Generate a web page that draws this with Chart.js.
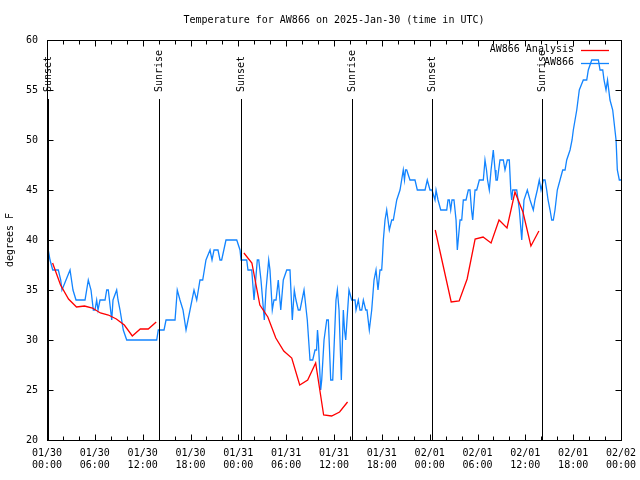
<!DOCTYPE html>
<html>
<head>
<meta charset="utf-8">
<title>Temperature for AW866</title>
<script src="https://cdn.jsdelivr.net/npm/chart.js@4"></script>
<style>
  html, body { margin: 0; padding: 0; background: #fff; }
  canvas { display: block; }
</style>
</head>
<body>
<canvas id="chart" width="640" height="480"></canvas>
<script>
// observed temperature, hours since 01/30 00:00 UTC
const obsHours = [
  0.16,0.38,0.72,1.42,1.72,1.88,2.89,3.26,3.64,4.77,
  5.18,5.52,5.81,6.02,6.23,6.40,6.65,7.28,7.49,7.69,
  8.12,8.28,8.74,8.91,9.16,9.57,10.00,13.76,13.96,14.68,
  14.93,16.06,16.34,16.68,17.06,17.44,17.94,18.19,18.44,18.78,
  19.19,19.53,19.94,20.45,20.70,20.95,21.45,21.70,21.91,22.45,
  23.80,24.21,24.34,24.55,25.05,25.21,25.68,25.97,26.38,26.56,
  26.84,27.26,27.47,27.81,27.97,28.26,28.47,28.73,29.01,29.32,
  29.64,30.07,30.48,30.77,31.02,31.23,31.52,31.74,31.99,32.24,
  32.65,32.99,33.33,33.62,33.81,33.93,34.03,34.33,34.46,34.75,
  35.09,35.29,35.59,35.84,36.25,36.42,36.63,36.92,37.17,37.32,
  37.47,37.63,37.88,38.22,38.64,38.76,39.05,39.26,39.48,39.68,
  39.98,40.14,40.43,40.73,41.02,41.27,41.52,41.77,41.98,42.06,
  42.19,42.40,42.61,42.94,43.24,43.44,43.87,44.28,44.69,44.84,
  44.97,45.12,45.53,46.16,46.45,47.42,47.70,48.04,48.29,48.67,
  48.80,49.05,49.39,50.14,50.30,50.46,50.64,50.80,51.05,51.31,
  51.47,51.81,52.02,52.22,52.56,52.85,53.06,53.25,53.40,53.69,
  53.90,54.23,54.73,54.94,55.13,55.26,55.48,55.70,55.98,56.20,
  56.32,56.49,56.82,57.24,57.45,57.74,57.99,58.17,58.29,58.42,
  58.92,59.25,59.55,59.83,60.25,60.59,61.00,61.21,61.50,61.75,
  61.97,62.26,62.47,62.68,62.85,63.10,63.31,63.51,63.72,64.01,
  64.35,64.69,64.98,65.19,65.61,65.86,66.02,66.45,66.77,67.27,
  67.70,67.90,68.33,69.16,69.37,69.71,69.87,70.12,70.31,70.62,
  70.96,71.38,71.54,71.79,72.00
];
const obsTemps = [
  39,38,37,37,36,35,37,35,34,34,
  36,35,33,33,34,33,34,34,35,35,
  32,34,35,34,33,31,30,30,31,31,
  32,32,35,34,33,31,33,34,35,34,
  36,36,38,39,38,39,39,38,38,40,
  40,39,38,38,38,37,37,34,38,38,
  36,32,35,38,37,33,34,34,36,33,
  36,37,37,32,35,34,33,33,34,35,
  32,28,28,29,29,31,30,25,26,30,
  32,32,26,26,34,35,33,26,33,31,
  30,32,35,34,34,33,34,33,33,34,
  33,33,31,33,36,37,35,37,37,38,
  40,42,43,41,42,42,44,45,47,46,
  47,47,46,46,45,45,46,45,45,44,
  45,44,43,43,44,44,43,44,44,42,
  39,42,42,44,44,45,45,43,42,45,
  45,46,46,48,47,46,45,47,49,47,
  46,46,48,48,47,48,48,45,44,45,
  45,43,40,44,45,44,43,44,45,46,
  45,46,46,45,44,43,42,42,43,45,
  46,47,47,48,49,50,51,53,55,56,
  56,57,58,58,57,57,56,55,56,54,
  53,50,47,46,46
];

// analysis runs, one block per day
const analysisHours1 = [0.7,1.7,2.7,3.7,4.7,5.7,6.7,7.7,8.7,9.7,10.7,11.7,12.7,13.7];
const analysisTemps1 = [37.7,35.5,34.1,33.3,33.4,33.2,32.7,32.5,32.1,31.5,30.4,31.1,31.1,31.8];
const analysisHours2 = [24.7,25.7,26.7,27.7,28.7,29.7,30.7,31.7,32.7,33.7,34.7,35.7,36.7,37.7];
const analysisTemps2 = [38.7,37.7,33.5,32.3,30.2,28.9,28.2,25.5,26.0,27.7,22.5,22.4,22.8,23.8];
const analysisHours3 = [48.7,49.7,50.7,51.7,52.7,53.7,54.7,55.7,56.7,57.7,58.7,59.7,60.7,61.7];
const analysisTemps3 = [41.0,37.4,33.8,33.9,36.1,40.1,40.3,39.7,42.0,41.2,44.8,42.8,39.4,40.9];

const sunHours = [0.15, 14.1, 24.3, 38.2, 48.25, 62.1];
const sunLabels = ['Sunset', 'Sunrise', 'Sunset', 'Sunrise', 'Sunset', 'Sunrise'];

const xDateLabels = ['01/30','01/30','01/30','01/30','01/31','01/31','01/31','01/31','02/01','02/01','02/01','02/01','02/02'];
const xTimeLabels = ['00:00','06:00','12:00','18:00','00:00','06:00','12:00','18:00','00:00','06:00','12:00','18:00','00:00'];

const FONT = '"DejaVu Sans Mono", "Liberation Mono", monospace';
const RED = '#ff0000';
const BLUE = '#1284ff';

function pairs(hours, temps) {
  return hours.map((h, i) => ({ x: h, y: temps[i] }));
}

// break the analysis line between days
const analysisData = pairs(analysisHours1, analysisTemps1)
  .concat([{ x: 19, y: null }])
  .concat(pairs(analysisHours2, analysisTemps2))
  .concat([{ x: 43, y: null }])
  .concat(pairs(analysisHours3, analysisTemps3));

const gnuplotLook = {
  id: 'gnuplotLook',
  afterDatasetsDraw(chart) {
    const ctx = chart.ctx;
    const a = chart.chartArea;
    const x = chart.scales.x;
    const y = chart.scales.y;
    ctx.save();
    ctx.strokeStyle = '#000';
    ctx.fillStyle = '#000';
    ctx.lineWidth = 1;
    ctx.font = '10px ' + FONT;

    // sunrise / sunset markers
    sunHours.forEach((h, i) => {
      const px = Math.round(x.getPixelForValue(h)) + 0.5;
      ctx.beginPath();
      ctx.moveTo(px, y.getPixelForValue(54.1));
      ctx.lineTo(px, a.bottom);
      ctx.stroke();
      ctx.save();
      ctx.translate(px, y.getPixelForValue(54.8));
      ctx.rotate(-Math.PI / 2);
      ctx.textAlign = 'left';
      ctx.textBaseline = 'middle';
      ctx.fillText(sunLabels[i], 0, 0);
      ctx.restore();
    });

    // border
    const l = Math.round(a.left) + 0.5, r = Math.round(a.right) + 0.5;
    const t = Math.round(a.top) + 0.5, b = Math.round(a.bottom) + 0.5;
    ctx.strokeRect(l, t, r - l, b - t);

    // inward ticks
    ctx.beginPath();
    for (let h = 0; h <= 72; h += 2) {
      const px = Math.round(x.getPixelForValue(h)) + 0.5;
      const len = h % 6 === 0 ? 6 : 4;
      ctx.moveTo(px, b); ctx.lineTo(px, b - len);
      ctx.moveTo(px, t); ctx.lineTo(px, t + len);
    }
    for (let v = 20; v <= 60; v += 5) {
      const py = Math.round(y.getPixelForValue(v)) + 0.5;
      ctx.moveTo(l, py); ctx.lineTo(l + 6, py);
      ctx.moveTo(r, py); ctx.lineTo(r - 6, py);
    }
    ctx.stroke();

    // legend
    chart.data.datasets.forEach((ds, i) => {
      const ly = a.top + 9.5 + i * 13;
      ctx.textAlign = 'right';
      ctx.textBaseline = 'middle';
      ctx.fillStyle = '#000';
      ctx.fillText(ds.label, a.right - 47, ly);
      ctx.strokeStyle = ds.borderColor;
      ctx.lineWidth = 1.3;
      ctx.beginPath();
      ctx.moveTo(a.right - 40, Math.round(ly) + 0.5);
      ctx.lineTo(a.right - 12, Math.round(ly) + 0.5);
      ctx.stroke();
    });

    // title and y label
    ctx.fillStyle = '#000';
    ctx.textAlign = 'center';
    ctx.textBaseline = 'middle';
    ctx.fillText('Temperature for AW866 on 2025-Jan-30 (time in UTC)', (a.left + a.right) / 2, 20);
    ctx.save();
    ctx.translate(10, (a.top + a.bottom) / 2);
    ctx.rotate(-Math.PI / 2);
    ctx.fillText('degrees F', 0, 0);
    ctx.restore();
    ctx.restore();
  }
};

Chart.defaults.color = '#000';
Chart.defaults.font.family = FONT;
Chart.defaults.font.size = 10;

new Chart(document.getElementById('chart'), {
  type: 'line',
  data: {
    datasets: [{
      label: 'AW866 Analysis',
      data: analysisData,
      borderColor: RED,
      borderWidth: 1.3,
      pointRadius: 0,
      tension: 0,
      spanGaps: false
    }, {
      label: 'AW866',
      data: pairs(obsHours, obsTemps),
      borderColor: BLUE,
      borderWidth: 1.3,
      pointRadius: 0,
      tension: 0
    }]
  },
  options: {
    responsive: false,
    animation: false,
    events: [],
    layout: { padding: { top: 40, right: 19, left: 0, bottom: 0 } },
    scales: {
      x: {
        type: 'linear',
        min: 0,
        max: 72,
        afterFit(scale) {
          scale.height = 40;
          scale.paddingLeft = 0;
          scale.paddingRight = 0;
        },
        grid: { display: false, drawTicks: false },
        border: { display: false },
        ticks: {
          stepSize: 6,
          autoSkip: false,
          maxRotation: 0,
          padding: 8,
          font: { size: 10, lineHeight: 1.15 },
          callback: (value, index) => [xDateLabels[index], xTimeLabels[index]]
        }
      },
      y: {
        min: 20,
        max: 60,
        afterFit(scale) {
          scale.width = 47;
          scale.paddingTop = 0;
          scale.paddingBottom = 0;
        },
        grid: { display: false, drawTicks: false },
        border: { display: false },
        ticks: { stepSize: 5, padding: 9, font: { size: 10 } }
      }
    },
    plugins: {
      legend: { display: false },
      tooltip: { enabled: false }
    }
  },
  plugins: [gnuplotLook]
});
</script>
</body>
</html>
